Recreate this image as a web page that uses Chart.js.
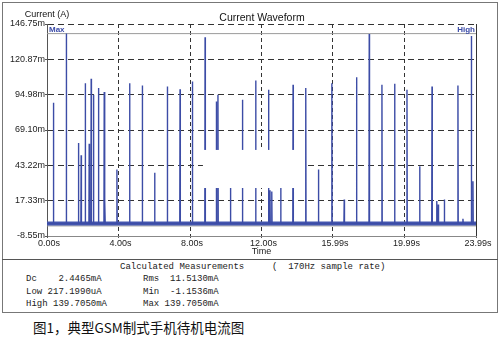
<!DOCTYPE html>
<html>
<head>
<meta charset="utf-8">
<script src="https://cdn.jsdelivr.net/npm/chart.js@4"></script>
<style>
  body { margin: 0; background: #fff; width: 500px; height: 337px; position: relative; overflow: hidden; }
  #frame { position: absolute; left: 2px; top: 2px; width: 494px; height: 309px; border: 1px solid #777; }
  #sep { position: absolute; left: 2px; top: 259px; width: 496px; border-top: 1px solid #555; }
  #wrap { position: absolute; left: 0; top: 0; width: 500px; height: 260px; }
  .m { position: absolute; font-family: "Liberation Mono", monospace; font-size: 9px; color: #222; white-space: pre; line-height: 11px; }
  #cap { position: absolute; left: 33px; top: 319px; font-family: "Noto Sans CJK SC", sans-serif; font-size: 13.5px; color: #111; white-space: pre; line-height: 17px; }
</style>
</head>
<body>
<div id="frame"></div>
<div id="sep"></div>
<div id="wrap"><canvas id="waveChart" width="500" height="260"></canvas></div>
<div class="m" style="left:120px; top:262px;">Calculated Measurements</div>
<div class="m" style="left:272px; top:262px;">(  170Hz sample rate)</div>
<div class="m" style="left:26px; top:274px;">Dc    2.4465mA</div>
<div class="m" style="left:143px; top:274px;">Rms  11.5130mA</div>
<div class="m" style="left:26px; top:287px;">Low 217.1990uA</div>
<div class="m" style="left:143px; top:287px;">Min  -1.1536mA</div>
<div class="m" style="left:26px; top:299px;">High 139.7050mA</div>
<div class="m" style="left:143px; top:299px;">Max 139.7050mA</div>
<div id="cap">图1，典型GSM制式手机待机电流图</div>
<script>
// tick values (s and mA)
const xTicks = [0, 4, 8, 12, 15.99, 19.99, 23.99];
const yTicks = [-8.55, 17.33, 43.22, 69.10, 94.98, 120.87, 146.75];

// current spikes
const spikeTimes = [0.36, 1.08, 1.76, 1.91, 2.14, 2.36, 2.47, 2.60, 2.88, 3.20,
    3.24, 3.91, 4.62, 5.33, 6.02, 6.73, 7.44, 8.13, 8.84, 9.47,
    9.56, 10.26, 10.93, 11.67, 12.39, 12.47, 12.57, 13.07, 13.76, 14.47,
    15.18, 15.93, 16.62, 17.31, 18.02, 18.73, 19.44, 20.13, 20.84, 21.53,
    21.79, 21.88, 22.22, 22.98, 23.26, 23.73, 23.82];
const spikePeaks = [89, 139.7, 59.6, 50.6, 103.4, 59.1, 106.6, 94.9, 99.8, 96.9,
    17, 40.1, 103.4, 101.7, 37.7, 100.9, 99, 104.6, 137, 90,
    94.9, 45, 91.2, 105.3, 98.5, 25, 24, 27, 102.2, 99.8,
    40.1, 103.4, 18.2, 107.8, 139.4, 102.2, 103, 98.5, 42.5, 100.9,
    17, 14.6, 18.2, 101.7, 4, 138, 31.6];
const baseline = 0.6;
const maxCurrent = 139.705;
const minCurrent = -1.1536;
// white patch pasted over the middle of the picture: [t0, t1, mA low, mA high]
const patch = [8.72, 14.42, 26.6, 54.5];

const tEnd = xTicks[xTicks.length - 1];
const trace = [{x: 0, y: baseline}];
spikeTimes.forEach((t, i) => {
    trace.push({x: t - 0.015, y: baseline}, {x: t, y: spikePeaks[i]}, {x: t + 0.015, y: baseline});
});
trace.push({x: tEnd, y: baseline});

Chart.defaults.font.family = '"Liberation Sans", Arial, sans-serif';
Chart.defaults.color = '#222';

const labels = {
    id: 'labels',
    afterDatasetsDraw(chart) {
        const {ctx, scales: {x, y}} = chart;
        ctx.save();
        ctx.fillStyle = '#fff';
        ctx.fillRect(x.getPixelForValue(patch[0]), y.getPixelForValue(patch[3]),
            x.getPixelForValue(patch[1]) - x.getPixelForValue(patch[0]),
            y.getPixelForValue(patch[2]) - y.getPixelForValue(patch[3]));
        ctx.restore();
    },
    afterDraw(chart) {
        const {ctx, chartArea: a} = chart;
        ctx.save();
        ctx.fillStyle = '#111';
        ctx.textBaseline = 'middle';
        ctx.textAlign = 'center';
        ctx.font = '9px "Liberation Sans", Arial';
        ctx.fillText('Current (A)', 47, 15);
        ctx.font = '10.5px "Liberation Sans", Arial';
        ctx.fillText('Current Waveform', 262, 18);
        ctx.fillStyle = '#3b4ba8';
        ctx.font = 'bold 8px "Liberation Sans", Arial';
        ctx.textAlign = 'left';
        ctx.fillText('Max', a.left + 2, 30);
        ctx.textAlign = 'right';
        ctx.fillText('High', a.right - 1, 30);
        ctx.restore();
    }
};

new Chart(document.getElementById('waveChart'), {
    type: 'line',
    data: {
        datasets: [{
            data: trace,
            borderColor: '#3c4ca6',
            borderWidth: 1.4,
            pointRadius: 0,
            tension: 0
        }, {
            data: [{x: 0, y: baseline}, {x: tEnd, y: baseline}],
            borderColor: '#4658b0',
            borderWidth: 4,
            pointRadius: 0
        }, {
            data: [{x: 0, y: maxCurrent}, {x: tEnd, y: maxCurrent}],
            borderColor: '#9a9a9a',
            borderWidth: 1,
            pointRadius: 0
        }, {
            data: [{x: 0, y: minCurrent}, {x: tEnd, y: minCurrent}],
            borderColor: '#9a9a9a',
            borderWidth: 1,
            pointRadius: 0
        }]
    },
    options: {
        responsive: false,
        animation: false,
        layout: { padding: { top: 24, right: 24, left: 0, bottom: 0 } },
        plugins: { legend: { display: false }, tooltip: { enabled: false }, title: { display: false } },
        scales: {
            x: {
                type: 'linear',
                min: 0,
                max: tEnd,
                afterFit: s => { s.height = 24; },
                afterBuildTicks: s => { s.ticks = xTicks.map(v => ({value: v})); },
                ticks: {
                    autoSkip: false,
                    maxRotation: 0,
                    padding: 0,
                    labelOffset: 2,
                    font: { size: 9 },
                    callback: v => v.toFixed(2) + 's'
                },
                grid: {
                    color: c => c.index === 0 ? 'rgba(0,0,0,0)' : '#333',
                    tickColor: '#555',
                    tickLength: 2,
                    lineWidth: 1
                },
                border: {
                    display: true,
                    color: '#888',
                    dash: c => c.index === xTicks.length - 1 ? [] : [4, 3]
                },
                title: {
                    display: true,
                    text: 'Time',
                    font: { size: 9, lineHeight: 1 },
                    padding: { top: 0, bottom: 3.5 }
                }
            },
            y: {
                min: yTicks[0],
                max: yTicks[yTicks.length - 1],
                afterFit: s => { s.width = 47; },
                afterBuildTicks: s => { s.ticks = yTicks.map(v => ({value: v})); },
                ticks: {
                    autoSkip: false,
                    padding: 0,
                    font: { size: 9 },
                    callback: v => v.toFixed(2) + 'm'
                },
                grid: {
                    color: c => c.index === 0 ? 'rgba(0,0,0,0)' : '#333',
                    tickColor: '#555',
                    tickLength: 2,
                    lineWidth: 1
                },
                border: {
                    display: true,
                    color: '#555',
                    dash: [6, 4]
                }
            }
        }
    },
    plugins: [labels]
});
</script>
</body>
</html>
